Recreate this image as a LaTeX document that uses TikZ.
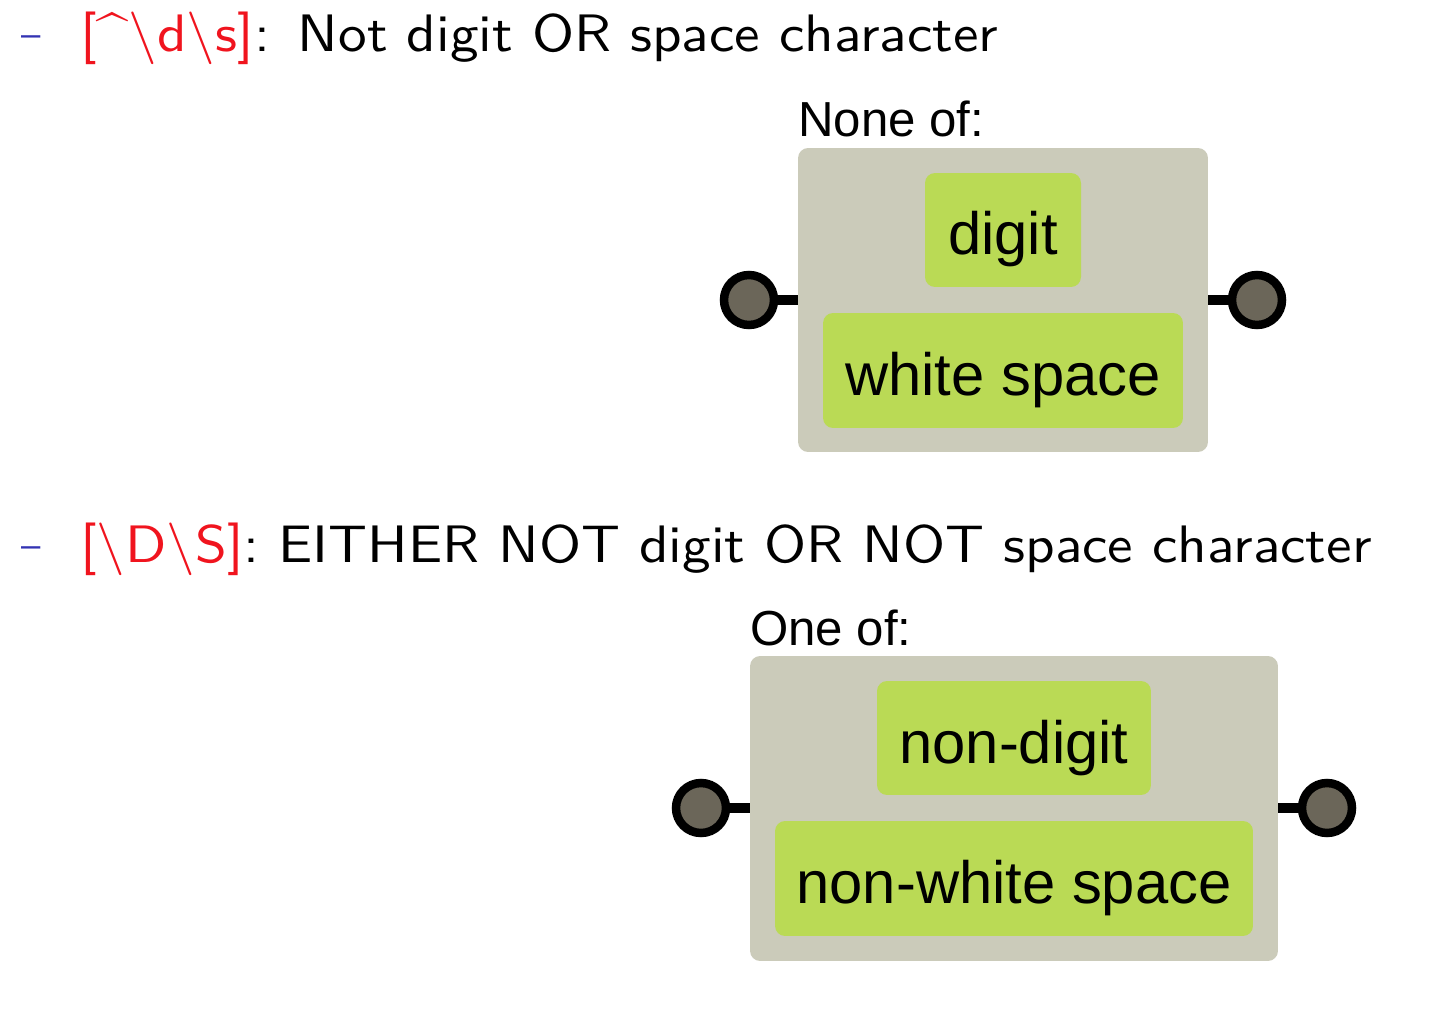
\documentclass[tikz,border=0pt]{standalone}
\usepackage{fontspec}
\newfontfamily\arialfont{Liberation Sans}
\newfontfamily\headfont{lmsans10-regular}[Extension=.otf]
\usepackage{tikz}
\usetikzlibrary{positioning}

\definecolor{boxgray}{HTML}{CBCBBA}
\definecolor{boxgreen}{HTML}{BADA55}
\definecolor{endfill}{HTML}{6B6659}
\definecolor{alertred}{HTML}{F0141E}
\definecolor{itemblue}{HTML}{3333B3}

\newcommand{\headline}[1]{\scalebox{1.086}[1]{#1}}

\begin{document}
\begin{tikzpicture}[
    x=0.02cm, y=-0.02cm,
    header/.style={anchor=base west, inner sep=0pt, font=\headfont\fontsize{30}{36}\selectfont},
    itemdash/.style={anchor=base west, inner sep=0pt, text=itemblue, font=\headfont\fontsize{22}{26}\selectfont},
    group/.style={fill=boxgray, rounded corners=0.2cm, inner sep=0pt},
    charbox/.style={fill=boxgreen, rounded corners=0.2cm, inner sep=0pt,
      text height=1cm, text depth=0pt, font=\arialfont\fontsize{34}{40}\selectfont},
    grouplabel/.style={anchor=base west, inner sep=0pt, font=\arialfont\fontsize{28}{33}\selectfont},
    terminal/.style={circle, draw=black, line width=0.17cm, fill=endfill, minimum size=1cm, inner sep=0pt},
    link/.style={line width=0.2cm}
  ]
  \useasboundingbox (0,0) rectangle (1436,1016);

  % first item: [^\d\s]
  \node[itemdash] (dash1) at (21,48) {\textendash};
  \node[header] (head1) at (80,52) {\headline{\textcolor{alertred}{[\textasciicircum\textbackslash d\textbackslash s]}:\hspace{0.49em}Not digit OR space character}};

  \node[group, minimum width=8.2cm, minimum height=6.08cm] (none) at (1003,300) {};
  \node[grouplabel] (nonelabel) at (798,137) {None of:};
  \node[charbox, minimum width=3.12cm, minimum height=2.28cm] (digit) at (1003,230) {digit};
  \node[charbox, minimum width=7.2cm, minimum height=2.3cm] (space) at (1003,370.5) {white space};
  \node[terminal] (start1) at (749,300) {};
  \node[terminal] (end1) at (1257,300) {};
  \draw[link] (start1) -- (none.west |- start1);
  \draw[link] (none.east |- end1) -- (end1);

  % second item: [\D\S]
  \node[itemdash] (dash2) at (21,558) {\textendash};
  \node[header] (head2) at (80,562) {\headline{\textcolor{alertred}{[\textbackslash D\textbackslash S]}: EITHER NOT digit OR NOT space character}};

  \node[group, minimum width=10.56cm, minimum height=6.1cm] (oneof) at (1014,808.5) {};
  \node[grouplabel] (oneoflabel) at (750,645) {One of:};
  \node[charbox, minimum width=5.48cm, minimum height=2.28cm] (nondigit) at (1014,738) {non-digit};
  \node[charbox, minimum width=9.56cm, minimum height=2.3cm] (nonspace) at (1014,878.5) {non-white space};
  \node[terminal] (start2) at (701,808) {};
  \node[terminal] (end2) at (1327,808) {};
  \draw[link] (start2) -- (oneof.west |- start2);
  \draw[link] (oneof.east |- end2) -- (end2);
\end{tikzpicture}
\end{document}
